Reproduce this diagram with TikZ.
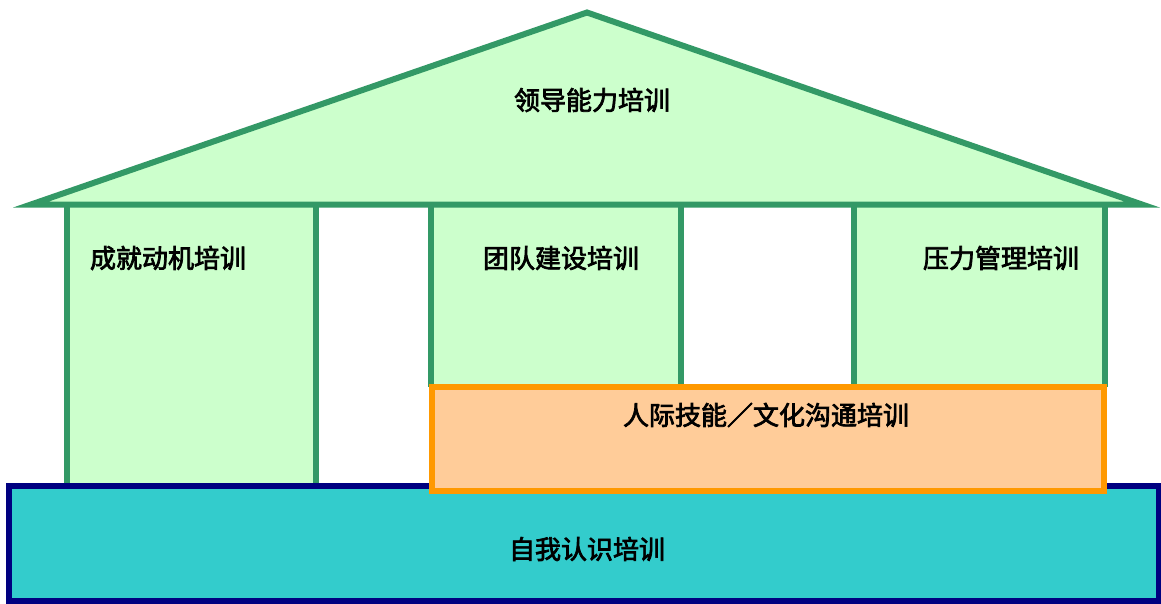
\documentclass[tikz,border=0pt]{standalone}
\usepackage{fontspec}
\newfontfamily\cjk[FakeBold=2.8]{Noto Sans CJK SC}
\definecolor{roofgreen}{HTML}{CCFFCC}
\definecolor{linegreen}{HTML}{339966}
\definecolor{orangefill}{HTML}{FFCC99}
\definecolor{orangeline}{HTML}{FF9900}
\definecolor{tealfill}{HTML}{33CCCC}
\definecolor{navyline}{HTML}{000080}
\begin{document}
\begin{tikzpicture}[x=1pt,y=-1pt,
  lbl/.style={font=\cjk\fontsize{26}{30}\selectfont, text=black, inner sep=0pt},
  colfill/.style={fill=roofgreen, draw=none},
  colline/.style={draw=linegreen, line width=6pt},
  roofshape/.style={fill=roofgreen, draw=linegreen, line width=6pt, line join=miter},
  basebox/.style={fill=tealfill, draw=navyline, line width=5.5pt},
  midbox/.style={fill=orangefill, draw=orangeline, line width=6pt}]
\useasboundingbox (0,0) rectangle (1161,604);
% column fills
\fill[colfill] (67,205) rectangle (316,486);
\fill[colfill] (431,205) rectangle (681,387);
\fill[colfill] (854,205) rectangle (1105,387);
% column lines
\draw[colline] (67,205) -- (67,486);
\draw[colline] (316,205) -- (316,486);
\draw[colline] (431,205) -- (431,387);
\draw[colline] (681,205) -- (681,387);
\draw[colline] (854,205) -- (854,387);
\draw[colline] (1105,205) -- (1105,387);
% roof
\draw[roofshape] (31,204.5) -- (587,12.5) -- (1142,204.5) -- cycle;
% base
\draw[basebox] (9,486) rectangle (1159,601);
% orange band
\draw[midbox] (432,387) rectangle (1104,491);
% labels
\node[lbl] (roof) at (592,100) {领导能力培训};
\node[lbl] (c1) at (168,258) {成就动机培训};
\node[lbl] (c2) at (561,258) {团队建设培训};
\node[lbl] (c3) at (1001,258) {压力管理培训};
\node[lbl] (band) at (766,415) {人际技能／文化沟通培训};
\node[lbl] (base) at (587,549) {自我认识培训};
\end{tikzpicture}
\end{document}
